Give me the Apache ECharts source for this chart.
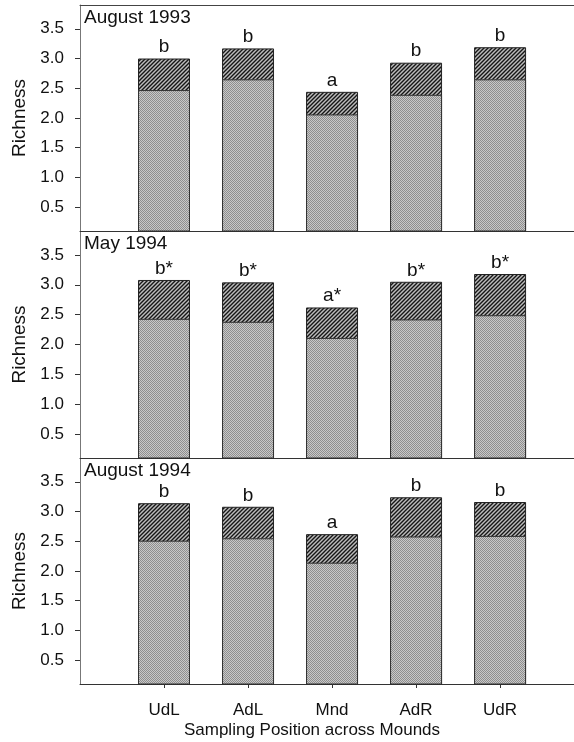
<!DOCTYPE html>
<html>
<head>
<meta charset="utf-8">
<script src="https://cdn.jsdelivr.net/npm/echarts@6/dist/echarts.min.js"></script>
<style>
  html, body { margin: 0; padding: 0; background: #fff; }
  #main { width: 574px; height: 742px; }
</style>
</head>
<body>
<div id="main"></div>
<script>
// sampling positions across the mounds
var categories = ['UdL', 'AdL', 'Mnd', 'AdR', 'UdR']
var positions = [1, 2, 3, 4, 5]
var yTicks = [0.5, 1.0, 1.5, 2.0, 2.5, 3.0, 3.5]
var panelTitles = ['August 1993', 'May 1994', 'August 1994']

// bar totals (hatched top) and lower gray part, per date
var totalAug93 = [3.00, 3.17, 2.44, 2.93, 3.19]
var lowerAug93 = [2.47, 2.65, 2.06, 2.39, 2.65]
var letterAug93 = ['b', 'b', 'a', 'b', 'b']

var totalMay94 = [3.08, 3.04, 2.62, 3.05, 3.18]
var lowerMay94 = [2.43, 2.38, 2.11, 2.42, 2.49]
var letterMay94 = ['b*', 'b*', 'a*', 'b*', 'b*']

var totalAug94 = [3.14, 3.08, 2.62, 3.24, 3.16]
var lowerAug94 = [2.51, 2.55, 2.14, 2.58, 2.59]
var letterAug94 = ['b', 'b', 'a', 'b', 'b']

var totals = [totalAug93, totalMay94, totalAug94]
var lowers = [lowerAug93, lowerMay94, lowerAug94]
var letters = [letterAug93, letterMay94, letterAug94]

var font = 'Liberation Sans, Arial, sans-serif'

// halftone gray for the lower part
function stipple() {
    var c = document.createElement('canvas')
    c.width = 2; c.height = 2
    var ctx = c.getContext('2d')
    ctx.fillStyle = '#c8c8c8'
    ctx.fillRect(0, 0, 2, 2)
    ctx.fillStyle = '#8e8e8e'
    ctx.fillRect(0, 0, 1, 1)
    ctx.fillRect(1, 1, 1, 1)
    return c
}

// dark diagonal hatching for the upper part
function hatch() {
    var s = 4
    var c = document.createElement('canvas')
    c.width = s; c.height = s
    var ctx = c.getContext('2d')
    ctx.fillStyle = '#bcbcbc'
    ctx.fillRect(0, 0, s, s)
    ctx.strokeStyle = '#161616'
    ctx.lineWidth = 1.4
    ctx.beginPath()
    ctx.moveTo(-1, s + 1); ctx.lineTo(s + 1, -1)
    ctx.moveTo(-1, 1); ctx.lineTo(1, -1)
    ctx.moveTo(s - 1, s + 1); ctx.lineTo(s + 1, s - 1)
    ctx.stroke()
    return c
}

var grayFill = { image: stipple(), repeat: 'repeat' }
var hatchFill = { image: hatch(), repeat: 'repeat' }

var chart = echarts.init(document.getElementById('main'))

var gridTops = [5, 231, 458]
var gridHeights = [226, 227, 226]
var xMax = 5.88

var grids = [], xAxes = [], yAxes = [], series = [], titles = []
for (var i = 0; i < 3; i++) {
    var last = i === 2
    grids.push({ left: 80, right: 0, top: gridTops[i], height: gridHeights[i] })
    xAxes.push({
        gridIndex: i, type: 'value', min: 0, max: xMax,
        axisLine: { show: true, lineStyle: { color: '#333' } },
        splitLine: { show: false },
        axisTick: { show: last, length: 4, customValues: positions, lineStyle: { color: '#333' } },
        axisLabel: {
            show: last, customValues: positions, margin: 18,
            fontSize: 17, color: '#111', fontFamily: font,
            formatter: function (v) { return categories[v - 1] || '' }
        },
        name: last ? 'Sampling Position across Mounds' : '',
        nameLocation: 'middle', nameGap: 38,
        nameTextStyle: { fontSize: 17, color: '#111', fontFamily: font, padding: [0, 30, 0, 0] }
    })
    yAxes.push({
        gridIndex: i, type: 'value', min: 0.1, max: 3.9,
        axisLine: { show: true, lineStyle: { color: '#777' } },
        splitLine: { show: false },
        axisTick: { show: true, length: 5, inside: false, customValues: yTicks, lineStyle: { color: '#333' } },
        axisLabel: {
            customValues: yTicks, margin: 16,
            fontSize: 17, color: '#111', fontFamily: font,
            formatter: function (v) { return v.toFixed(1) }
        },
        name: 'Richness', nameLocation: 'middle', nameGap: 43, nameRotate: 90,
        nameTextStyle: { fontSize: 19, color: '#111', fontFamily: font }
    })
    titles.push({
        text: panelTitles[i], left: 84, top: gridTops[i] + 3, padding: 0,
        textStyle: { fontSize: 19, fontWeight: 'normal', color: '#111', fontFamily: font }
    })
    var lab = letters[i]
    series.push({
        type: 'bar', xAxisIndex: i, yAxisIndex: i,
        barWidth: 52, barGap: '-100%',
        data: positions.map(function (p, k) { return [p, totals[i][k]] }),
        itemStyle: { color: hatchFill, borderColor: '#222', borderWidth: 1 },
        label: {
            show: true, position: 'top', distance: 2,
            fontSize: 19, color: '#111', fontFamily: font,
            formatter: (function (l) { return function (p) { return l[p.dataIndex] } })(lab)
        },
        silent: true
    })
    series.push({
        type: 'bar', xAxisIndex: i, yAxisIndex: i,
        barWidth: 52, barGap: '-100%',
        data: positions.map(function (p, k) { return [p, lowers[i][k]] }),
        itemStyle: { color: grayFill, borderColor: '#333', borderWidth: 1 },
        silent: true
    })
}

// top border line of the first panel
xAxes.push({
    gridIndex: 0, type: 'value', min: 0, max: xMax, position: 'top',
    axisLine: { show: true, lineStyle: { color: '#444' } },
    axisTick: { show: false }, axisLabel: { show: false }, splitLine: { show: false }
})

chart.setOption({
    animation: false,
    backgroundColor: '#fff',
    title: titles,
    grid: grids,
    xAxis: xAxes,
    yAxis: yAxes,
    series: series
})
</script>
</body>
</html>
